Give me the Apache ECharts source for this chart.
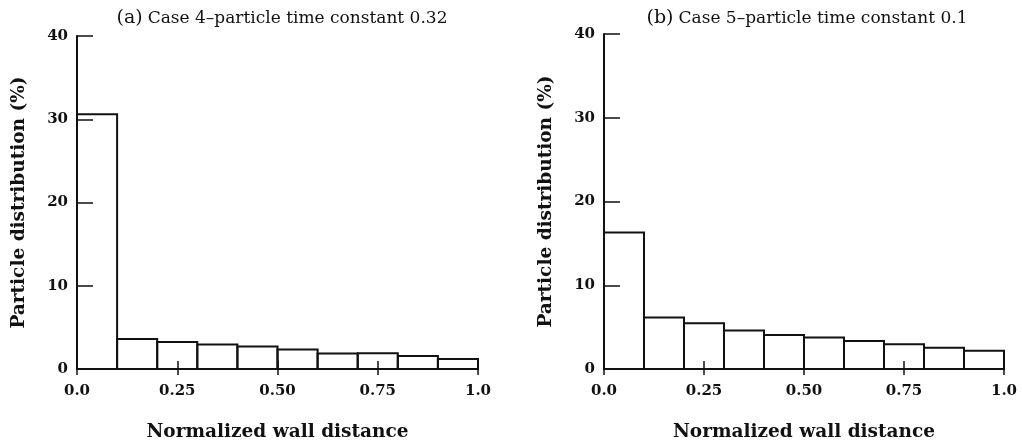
<!DOCTYPE html>
<html>
<head>
<meta charset="utf-8">
<script src="https://cdn.jsdelivr.net/npm/echarts@6/dist/echarts.min.js"></script>
<style>html,body{margin:0;padding:0;background:#fff}#c{width:1022px;height:447px}</style>
</head>
<body>
<div id="c"></div>
<script>
// Bin edges (normalized wall distance)
const binStart = [0.0, 0.1, 0.2, 0.3, 0.4, 0.5, 0.6, 0.7, 0.8, 0.9];
const binEnd   = [0.1, 0.2, 0.3, 0.4, 0.5, 0.6, 0.7, 0.8, 0.9, 1.0];
// (a) Case 4 - particle time constant 0.32
const caseA = [30.6, 3.6, 3.25, 2.95, 2.7, 2.35, 1.87, 1.9, 1.55, 1.2];
// (b) Case 5 - particle time constant 0.1
const caseB = [16.3, 6.15, 5.45, 4.6, 4.05, 3.75, 3.35, 2.95, 2.55, 2.17];
const xTickLabels = {0: '0.0', 0.25: '0.25', 0.5: '0.50', 0.75: '0.75', 1: '1.0'};
const titleA = ['(a)', 'Case 4\u2013particle time constant 0.32'];
const titleB = ['(b)', 'Case 5\u2013particle time constant 0.1'];
const yName = 'Particle distribution (%)';
const xName = 'Normalized wall distance';

const serif = '"DejaVu Serif", "Liberation Serif", serif';
const ink = '#111';

function build(vals) {
  return vals.map((v, i) => [binStart[i], binEnd[i], v]);
}
function renderItem(params, api) {
  const p0 = api.coord([api.value(0), api.value(2)]);
  const p1 = api.coord([api.value(1), 0]);
  return {
    type: 'rect',
    shape: {x: p0[0], y: p0[1], width: p1[0] - p0[0], height: p1[1] - p0[1]},
    style: {fill: 'none', stroke: ink, lineWidth: 2}
  };
}
function xAxisMain(gi) {
  return {
    type: 'value', gridIndex: gi, position: 'bottom', min: 0, max: 1, interval: 0.25,
    name: xName, nameLocation: 'middle', nameGap: 54,
    nameTextStyle: {fontFamily: serif, fontWeight: 'bold', fontSize: 18.5, color: ink},
    axisLine: {show: true, lineStyle: {color: ink, width: 2}},
    axisTick: {show: true, inside: true, length: 8, lineStyle: {color: ink, width: 1.5}},
    axisLabel: {fontFamily: serif, fontWeight: 'bold', fontSize: 15, color: ink, margin: 15,
      formatter: v => xTickLabels[v] !== undefined ? xTickLabels[v] : ''},
    splitLine: {show: false}
  };
}
function xAxisOuter(gi) {
  return {
    type: 'value', gridIndex: gi, position: 'bottom', offset: 0, min: 0, max: 1, interval: 0.25,
    axisLine: {show: true, onZero: false, lineStyle: {color: 'rgba(0,0,0,0)', width: 0}},
    axisTick: {show: true, inside: false, length: 6, lineStyle: {color: ink, width: 1.5}},
    axisLabel: {show: false}, splitLine: {show: false}
  };
}
function yAxis(gi) {
  return {
    type: 'value', gridIndex: gi, min: 0, max: 40, interval: 10,
    name: yName, nameLocation: 'middle', nameGap: 48,
    nameTextStyle: {fontFamily: serif, fontWeight: 'bold', fontSize: 18.5, color: ink},
    axisLine: {show: true, lineStyle: {color: ink, width: 2}},
    axisTick: {show: true, inside: true, length: 16, lineStyle: {color: ink, width: 1.5}},
    axisLabel: {fontFamily: serif, fontWeight: 'bold', fontSize: 15, color: ink, margin: 9},
    splitLine: {show: false}
  };
}
function title(t, cx) {
  return {
    text: '{a|' + t[0] + '} {b|' + t[1] + '}',
    left: cx, top: 4, textAlign: 'center',
    textStyle: {
      fontWeight: 'normal',
      rich: {
        a: {fontFamily: serif, fontSize: 19, fontWeight: 'normal', color: ink},
        b: {fontFamily: serif, fontSize: 17, fontWeight: 'normal', color: ink}
      }
    }
  };
}

const chart = echarts.init(document.getElementById('c'), null, {renderer: 'canvas'});
chart.setOption({
  backgroundColor: '#fff',
  animation: false,
  title: [title(titleA, 277), title(titleB, 802)],
  grid: [
    {left: 77, top: 36, width: 401, height: 336},
    {left: 604, top: 34, width: 400, height: 337}
  ],
  xAxis: [xAxisMain(0), xAxisMain(1), xAxisOuter(0), xAxisOuter(1)],
  yAxis: [yAxis(0), yAxis(1)],
  series: [
    {type: 'custom', xAxisIndex: 0, yAxisIndex: 0, renderItem, data: build(caseA), encode: {x: [0, 1], y: 2}},
    {type: 'custom', xAxisIndex: 1, yAxisIndex: 1, renderItem, data: build(caseB), encode: {x: [0, 1], y: 2}}
  ]
});
</script>
</body>
</html>
